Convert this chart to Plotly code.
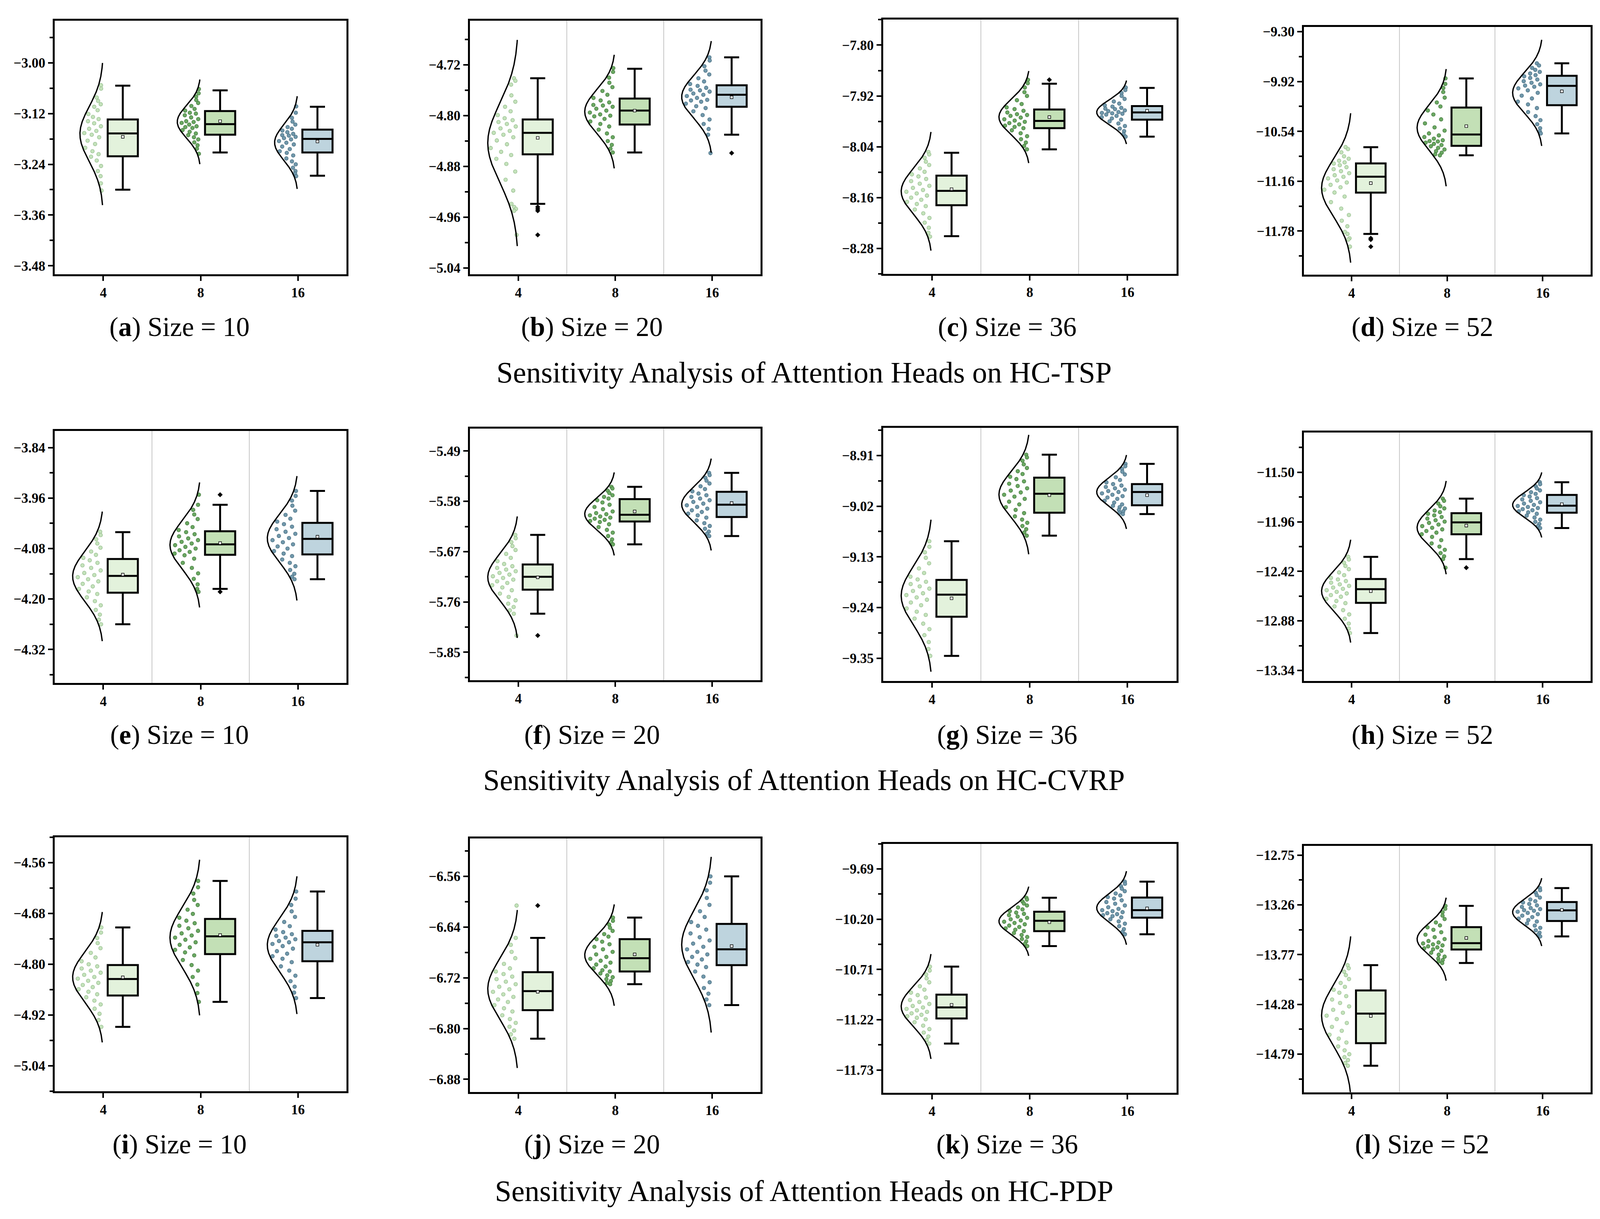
import numpy as np
import plotly.graph_objects as go

HEADS = ["4", "8", "16"]
SIZES = [10, 20, 36, 52]
TASKS = ["HC-TSP", "HC-CVRP", "HC-PDP"]
LETTERS = list("abcdefghijkl")

# labelled y ticks of every panel
Y_TICKS = {
    "a": [-3.00, -3.12, -3.24, -3.36, -3.48],
    "b": [-4.72, -4.80, -4.88, -4.96, -5.04],
    "c": [-7.80, -7.92, -8.04, -8.16, -8.28],
    "d": [-9.30, -9.92, -10.54, -11.16, -11.78],
    "e": [-3.84, -3.96, -4.08, -4.20, -4.32],
    "f": [-5.49, -5.58, -5.67, -5.76, -5.85],
    "g": [-8.91, -9.02, -9.13, -9.24, -9.35],
    "h": [-11.50, -11.96, -12.42, -12.88, -13.34],
    "i": [-4.56, -4.68, -4.80, -4.92, -5.04],
    "j": [-6.56, -6.64, -6.72, -6.80, -6.88],
    "k": [-9.69, -10.20, -10.71, -11.22, -11.73],
    "l": [-12.75, -13.26, -13.77, -14.28, -14.79],
}
Y_RANGE = {
    "a": [-3.50, -2.90], "b": [-5.05, -4.65], "c": [-8.34, -7.74], "d": [-12.32, -9.24],
    "e": [-4.40, -3.80], "f": [-5.90, -5.45], "g": [-9.40, -8.85], "h": [-13.44, -11.13],
    "i": [-5.10, -4.50], "j": [-6.90, -6.50], "k": [-11.96, -9.435], "l": [-15.18, -12.655],
}

# box statistics, one value per head count (4, 8, 16)
UPPER = {
    "a": [-3.054, -3.065, -3.104], "b": [-4.741, -4.726, -4.708], "c": [-8.054, -7.891, -7.901],
    "d": [-10.737, -9.882, -9.693], "e": [-4.041, -3.976, -3.943], "f": [-5.640, -5.554, -5.529],
    "g": [-9.096, -8.908, -8.928], "h": [-12.285, -11.745, -11.592], "i": [-4.713, -4.603, -4.628],
    "j": [-6.657, -6.625, -6.560], "k": [-10.681, -9.982, -9.818], "l": [-13.878, -13.270, -13.088],
}
Q3 = {
    "a": [-3.134, -3.114, -3.158], "b": [-4.806, -4.773, -4.752], "c": [-8.108, -7.952, -7.944],
    "d": [-10.939, -10.244, -9.849], "e": [-4.105, -4.039, -4.019], "f": [-5.693, -5.576, -5.563],
    "g": [-9.180, -8.958, -8.972], "h": [-12.491, -11.880, -11.710], "i": [-4.802, -4.693, -4.721],
    "j": [-6.711, -6.659, -6.635], "k": [-10.965, -10.124, -9.980], "l": [-14.137, -13.488, -13.231],
}
MEDIAN = {
    "a": [-3.167, -3.145, -3.180], "b": [-4.827, -4.792, -4.767], "c": [-8.144, -7.979, -7.959],
    "d": [-11.104, -10.579, -9.974], "e": [-4.145, -4.070, -4.057], "f": [-5.715, -5.604, -5.586],
    "g": [-9.212, -8.993, -8.989], "h": [-12.586, -11.965, -11.810], "i": [-4.835, -4.734, -4.748],
    "j": [-6.741, -6.689, -6.675], "k": [-11.095, -10.216, -10.108], "l": [-14.374, -13.652, -13.316],
}
Q1 = {
    "a": [-3.221, -3.170, -3.212], "b": [-4.861, -4.814, -4.786], "c": [-8.178, -7.996, -7.976],
    "d": [-11.302, -10.720, -10.214], "e": [-4.185, -4.095, -4.094], "f": [-5.738, -5.616, -5.608],
    "g": [-9.260, -9.034, -9.018], "h": [-12.713, -12.076, -11.875], "i": [-4.874, -4.776, -4.793],
    "j": [-6.771, -6.710, -6.700], "k": [-11.207, -10.321, -10.184], "l": [-14.677, -13.717, -13.425],
}
LOWER = {
    "a": [-3.300, -3.212, -3.267], "b": [-4.939, -4.858, -4.830], "c": [-8.251, -8.046, -8.016],
    "d": [-11.815, -10.838, -10.565], "e": [-4.260, -4.176, -4.153], "f": [-5.781, -5.657, -5.642],
    "g": [-9.345, -9.084, -9.037], "h": [-12.993, -12.306, -12.018], "i": [-4.948, -4.889, -4.880],
    "j": [-6.816, -6.730, -6.763], "k": [-11.462, -10.473, -10.353], "l": [-14.908, -13.856, -13.583],
}
MEAN = {
    "a": [-3.175, -3.138, -3.186], "b": [-4.835, -4.792, -4.771], "c": [-8.140, -7.970, -7.955],
    "d": [-11.184, -10.475, -10.042], "e": [-4.142, -4.067, -4.052], "f": [-5.716, -5.598, -5.583],
    "g": [-9.220, -8.996, -8.996], "h": [-12.604, -11.995, -11.796], "i": [-4.831, -4.731, -4.754],
    "j": [-6.742, -6.683, -6.670], "k": [-11.069, -10.230, -10.090], "l": [-14.398, -13.599, -13.312],
}
OUTLIERS = {
    "b": [[-4.944, -4.947, -4.950, -4.988], [], [-4.859]],
    "c": [[], [-7.882], []],
    "d": [[-11.869, -11.886, -11.973], [], []],
    "e": [[], [-3.952, -4.183], []],
    "f": [[-5.820], [], []],
    "h": [[], [-12.386], []],
    "j": [[-6.606], [], []],
}

# individual runs (heads 4, 8, 16)
POINTS = {
    "a": [
        [-3.053, -3.061, -3.082, -3.090, -3.098, -3.104, -3.112, -3.121, -3.128, -3.133, -3.138, -3.143, -3.150, -3.156, -3.161,
         -3.166, -3.170, -3.176, -3.184, -3.192, -3.201, -3.209, -3.216, -3.222, -3.231, -3.244, -3.256, -3.268, -3.285, -3.302],
        [-3.062, -3.072, -3.080, -3.088, -3.095, -3.102, -3.109, -3.113, -3.118, -3.120, -3.124, -3.129, -3.133, -3.138, -3.140,
         -3.142, -3.146, -3.150, -3.152, -3.154, -3.159, -3.163, -3.167, -3.171, -3.176, -3.181, -3.188, -3.195, -3.203, -3.215],
        [-3.103, -3.118, -3.130, -3.139, -3.146, -3.152, -3.156, -3.160, -3.164, -3.168, -3.171, -3.172, -3.175, -3.178, -3.181,
         -3.185, -3.189, -3.193, -3.198, -3.204, -3.209, -3.213, -3.219, -3.226, -3.233, -3.240, -3.248, -3.256, -3.262, -3.268],
    ],
    "b": [
        [-4.741, -4.745, -4.751, -4.768, -4.778, -4.786, -4.793, -4.799, -4.804, -4.807, -4.810, -4.813, -4.817, -4.820, -4.824,
         -4.827, -4.830, -4.834, -4.839, -4.845, -4.851, -4.857, -4.862, -4.868, -4.876, -4.888, -4.901, -4.918, -4.939, -4.944,
         -4.947, -4.950, -4.988],
        [-4.725, -4.731, -4.740, -4.748, -4.755, -4.761, -4.767, -4.772, -4.776, -4.779, -4.783, -4.784, -4.786, -4.789, -4.792,
         -4.795, -4.798, -4.800, -4.801, -4.805, -4.809, -4.813, -4.817, -4.822, -4.828, -4.834, -4.840, -4.846, -4.852, -4.858],
        [-4.708, -4.713, -4.722, -4.729, -4.735, -4.741, -4.746, -4.750, -4.753, -4.756, -4.759, -4.760, -4.762, -4.765, -4.767,
         -4.769, -4.772, -4.775, -4.776, -4.778, -4.781, -4.785, -4.788, -4.793, -4.799, -4.806, -4.813, -4.821, -4.830, -4.859],
    ],
    "c": [
        [-8.052, -8.058, -8.066, -8.075, -8.083, -8.091, -8.099, -8.105, -8.110, -8.116, -8.121, -8.127, -8.132, -8.137, -8.142,
         -8.146, -8.150, -8.155, -8.160, -8.165, -8.170, -8.175, -8.180, -8.188, -8.197, -8.208, -8.219, -8.231, -8.243, -8.252],
        [-7.882, -7.890, -7.900, -7.911, -7.920, -7.930, -7.939, -7.947, -7.951, -7.955, -7.959, -7.963, -7.965, -7.967, -7.971,
         -7.975, -7.978, -7.981, -7.984, -7.987, -7.990, -7.993, -7.996, -8.001, -8.008, -8.015, -8.022, -8.030, -8.038, -8.046],
        [-7.900, -7.906, -7.913, -7.920, -7.927, -7.933, -7.938, -7.942, -7.945, -7.948, -7.950, -7.951, -7.954, -7.956, -7.958,
         -7.960, -7.961, -7.962, -7.964, -7.967, -7.970, -7.973, -7.976, -7.980, -7.985, -7.991, -7.997, -8.003, -8.010, -8.016],
    ],
    "d": [
        [-10.735, -10.760, -10.800, -10.850, -10.880, -10.905, -10.925, -10.940, -10.960, -10.985, -11.010, -11.035, -11.060,
         -11.085, -11.105, -11.125, -11.150, -11.175, -11.205, -11.235, -11.265, -11.300, -11.350, -11.420, -11.500, -11.580,
         -11.650, -11.720, -11.790, -11.815, -11.869, -11.886, -11.973],
        [-9.880, -9.950, -10.000, -10.050, -10.120, -10.180, -10.230, -10.280, -10.330, -10.390, -10.440, -10.490, -10.530,
         -10.565, -10.590, -10.610, -10.630, -10.650, -10.660, -10.665, -10.680, -10.695, -10.710, -10.725, -10.745, -10.765,
         -10.785, -10.805, -10.825, -10.838],
        [-9.693, -9.720, -9.750, -9.775, -9.800, -9.820, -9.840, -9.855, -9.875, -9.895, -9.915, -9.935, -9.955, -9.970, -9.985,
         -10.005, -10.030, -10.060, -10.095, -10.130, -10.170, -10.205, -10.250, -10.300, -10.350, -10.400, -10.450, -10.500,
         -10.540, -10.565],
    ],
    "e": [
        [-4.040, -4.048, -4.058, -4.068, -4.078, -4.087, -4.095, -4.102, -4.108, -4.114, -4.120, -4.126, -4.132, -4.138, -4.143,
         -4.148, -4.153, -4.158, -4.164, -4.170, -4.176, -4.182, -4.188, -4.196, -4.205, -4.215, -4.226, -4.237, -4.249, -4.260],
        [-3.952, -3.976, -3.988, -3.999, -4.010, -4.020, -4.029, -4.036, -4.041, -4.046, -4.051, -4.056, -4.060, -4.064, -4.068,
         -4.072, -4.076, -4.080, -4.084, -4.088, -4.092, -4.096, -4.104, -4.114, -4.126, -4.139, -4.152, -4.165, -4.176, -4.183],
        [-3.943, -3.955, -3.966, -3.978, -3.990, -4.000, -4.009, -4.016, -4.022, -4.028, -4.034, -4.040, -4.045, -4.050, -4.055,
         -4.060, -4.065, -4.070, -4.075, -4.080, -4.086, -4.092, -4.098, -4.106, -4.114, -4.122, -4.131, -4.140, -4.147, -4.153],
    ],
    "f": [
        [-5.640, -5.646, -5.653, -5.660, -5.667, -5.674, -5.681, -5.687, -5.692, -5.696, -5.699, -5.702, -5.705, -5.708, -5.711,
         -5.714, -5.717, -5.720, -5.723, -5.726, -5.730, -5.734, -5.739, -5.745, -5.751, -5.757, -5.763, -5.769, -5.775, -5.781,
         -5.820],
        [-5.554, -5.557, -5.561, -5.565, -5.569, -5.572, -5.575, -5.578, -5.582, -5.586, -5.590, -5.594, -5.598, -5.601, -5.603,
         -5.605, -5.607, -5.609, -5.611, -5.613, -5.615, -5.617, -5.621, -5.626, -5.631, -5.636, -5.642, -5.648, -5.653, -5.657],
        [-5.529, -5.533, -5.538, -5.543, -5.548, -5.553, -5.558, -5.562, -5.566, -5.569, -5.572, -5.575, -5.578, -5.581, -5.584,
         -5.587, -5.590, -5.593, -5.596, -5.599, -5.602, -5.605, -5.609, -5.614, -5.619, -5.624, -5.629, -5.634, -5.638, -5.642],
    ],
    "g": [
        [-9.096, -9.108, -9.120, -9.132, -9.144, -9.155, -9.165, -9.173, -9.179, -9.184, -9.189, -9.194, -9.199, -9.204, -9.209,
         -9.213, -9.218, -9.223, -9.229, -9.235, -9.242, -9.249, -9.256, -9.264, -9.275, -9.287, -9.300, -9.315, -9.330, -9.345],
        [-8.908, -8.914, -8.921, -8.929, -8.937, -8.944, -8.950, -8.956, -8.961, -8.966, -8.971, -8.976, -8.981, -8.986, -8.990,
         -8.995, -8.999, -9.004, -9.010, -9.016, -9.022, -9.028, -9.035, -9.042, -9.049, -9.056, -9.063, -9.070, -9.077, -9.084],
        [-8.928, -8.933, -8.939, -8.945, -8.951, -8.957, -8.963, -8.968, -8.972, -8.975, -8.978, -8.981, -8.984, -8.987, -8.989,
         -8.992, -8.995, -8.998, -9.001, -9.004, -9.008, -9.012, -9.016, -9.019, -9.022, -9.025, -9.028, -9.031, -9.034, -9.037],
    ],
    "h": [
        [-12.285, -12.310, -12.340, -12.370, -12.400, -12.430, -12.455, -12.480, -12.495, -12.510, -12.525, -12.540, -12.555,
         -12.570, -12.582, -12.595, -12.610, -12.625, -12.640, -12.655, -12.675, -12.695, -12.715, -12.745, -12.780, -12.820,
         -12.860, -12.905, -12.950, -12.993],
        [-11.745, -11.765, -11.790, -11.815, -11.835, -11.855, -11.870, -11.885, -11.900, -11.915, -11.930, -11.945, -11.958,
         -11.970, -11.985, -12.000, -12.015, -12.030, -12.045, -12.060, -12.075, -12.100, -12.130, -12.160, -12.190, -12.220,
         -12.250, -12.280, -12.306, -12.386],
        [-11.592, -11.610, -11.630, -11.650, -11.668, -11.685, -11.700, -11.712, -11.725, -11.740, -11.752, -11.765, -11.778,
         -11.790, -11.803, -11.813, -11.822, -11.832, -11.842, -11.852, -11.862, -11.872, -11.885, -11.902, -11.920, -11.940,
         -11.960, -11.980, -12.000, -12.018],
    ],
    "i": [
        [-4.713, -4.725, -4.738, -4.750, -4.762, -4.773, -4.784, -4.793, -4.800, -4.805, -4.810, -4.815, -4.820, -4.825, -4.830,
         -4.834, -4.839, -4.844, -4.849, -4.854, -4.859, -4.865, -4.871, -4.878, -4.886, -4.895, -4.905, -4.917, -4.932, -4.948],
        [-4.603, -4.618, -4.633, -4.648, -4.660, -4.671, -4.681, -4.690, -4.697, -4.703, -4.709, -4.715, -4.721, -4.727, -4.732,
         -4.737, -4.742, -4.748, -4.754, -4.760, -4.766, -4.772, -4.779, -4.790, -4.802, -4.815, -4.830, -4.848, -4.868, -4.889],
        [-4.628, -4.645, -4.660, -4.675, -4.688, -4.700, -4.710, -4.718, -4.724, -4.729, -4.733, -4.737, -4.741, -4.745, -4.748,
         -4.752, -4.757, -4.763, -4.769, -4.775, -4.781, -4.787, -4.795, -4.805, -4.815, -4.827, -4.840, -4.853, -4.867, -4.880],
    ],
    "j": [
        [-6.606, -6.657, -6.668, -6.679, -6.689, -6.698, -6.705, -6.710, -6.714, -6.718, -6.722, -6.726, -6.730, -6.734, -6.738,
         -6.742, -6.746, -6.750, -6.754, -6.758, -6.763, -6.768, -6.773, -6.779, -6.785, -6.791, -6.797, -6.803, -6.809, -6.816],
        [-6.625, -6.630, -6.636, -6.641, -6.646, -6.651, -6.655, -6.659, -6.663, -6.667, -6.671, -6.675, -6.679, -6.683, -6.687,
         -6.690, -6.693, -6.696, -6.699, -6.702, -6.705, -6.708, -6.710, -6.713, -6.716, -6.719, -6.722, -6.725, -6.728, -6.730],
        [-6.560, -6.570, -6.582, -6.594, -6.605, -6.615, -6.624, -6.632, -6.638, -6.644, -6.650, -6.656, -6.661, -6.666, -6.671,
         -6.675, -6.679, -6.683, -6.687, -6.691, -6.695, -6.699, -6.703, -6.710, -6.718, -6.727, -6.736, -6.745, -6.754, -6.763],
    ],
    "k": [
        [-10.681, -10.720, -10.760, -10.800, -10.840, -10.880, -10.915, -10.945, -10.970, -10.995, -11.020, -11.040, -11.060,
         -11.080, -11.095, -11.110, -11.125, -11.140, -11.155, -11.170, -11.185, -11.200, -11.215, -11.245, -11.280, -11.315,
         -11.350, -11.390, -11.425, -11.462],
        [-9.982, -10.000, -10.020, -10.040, -10.060, -10.080, -10.100, -10.118, -10.132, -10.145, -10.158, -10.172, -10.186,
         -10.200, -10.212, -10.225, -10.238, -10.251, -10.264, -10.278, -10.292, -10.306, -10.320, -10.340, -10.360, -10.380,
         -10.400, -10.425, -10.450, -10.473],
        [-9.818, -9.840, -9.865, -9.890, -9.915, -9.938, -9.958, -9.975, -9.990, -10.008, -10.025, -10.042, -10.060, -10.078,
         -10.095, -10.108, -10.118, -10.128, -10.138, -10.148, -10.158, -10.168, -10.180, -10.200, -10.222, -10.245, -10.270,
         -10.300, -10.328, -10.353],
    ],
    "l": [
        [-13.878, -13.910, -13.945, -13.980, -14.020, -14.060, -14.100, -14.130, -14.160, -14.195, -14.230, -14.265, -14.300,
         -14.335, -14.365, -14.395, -14.430, -14.470, -14.510, -14.550, -14.590, -14.630, -14.670, -14.710, -14.750, -14.790,
         -14.820, -14.850, -14.880, -14.908],
        [-13.270, -13.300, -13.335, -13.370, -13.405, -13.440, -13.470, -13.490, -13.515, -13.540, -13.565, -13.590, -13.610,
         -13.630, -13.645, -13.655, -13.665, -13.675, -13.685, -13.695, -13.705, -13.715, -13.730, -13.750, -13.770, -13.790,
         -13.810, -13.825, -13.840, -13.856],
        [-13.088, -13.110, -13.135, -13.160, -13.185, -13.205, -13.222, -13.235, -13.250, -13.265, -13.280, -13.292, -13.303,
         -13.314, -13.320, -13.330, -13.342, -13.355, -13.370, -13.385, -13.400, -13.415, -13.430, -13.450, -13.472, -13.495,
         -13.520, -13.545, -13.565, -13.583],
    ],
}

# styling
PT_FILL = ["#c4e2bb", "#6ba863", "#7198ab"]
PT_EDGE = ["#8fb887", "#3d7437", "#41687b"]
BOX_FILL = ["#e3f2dc", "#c3e0b6", "#bed4de"]
SEPARATORS = {"a": [], "i": [1.5], "k": [0.5]}
CURVE_W = {"a": 0.24}
X_DOM = [(0.0322, 0.2147), (0.2917, 0.4735), (0.5500, 0.7333), (0.8130, 0.9921)]
Y_DOM = {
    "a": (0.7788, 0.9876), "b": (0.7788, 0.9876), "c": (0.7791, 0.9883), "d": (0.7786, 0.9824),
    "e": (0.4423, 0.6500), "f": (0.4447, 0.6517), "g": (0.4439, 0.6523), "h": (0.4439, 0.6486),
    "i": (0.1065, 0.3154), "j": (0.1058, 0.3146), "k": (0.1053, 0.3100), "l": (0.1056, 0.3084),
}
CAP_X = [0.1103, 0.368, 0.6276, 0.887]
CAP_Y = [0.7353, 0.3998, 0.0626]
TITLE_Y = [0.698, 0.3626, 0.0245]

SERIF = "Liberation Serif"
TICKFONT = dict(family=SERIF, size=35, color="black", weight="bold")

fig = go.Figure()
layout = {}
shapes = []
annotations = []

for p, letter in enumerate(LETTERS):
    row, col = divmod(p, 4)
    k = p + 1
    xa = "x" if k == 1 else f"x{k}"
    ya = "y" if k == 1 else f"y{k}"
    w = CURVE_W.get(letter, 0.315)

    for i in range(3):
        pts = np.array(POINTS[letter][i])
        mu, sd = pts.mean(), pts.std()

        # half violin: fitted normal curve on the left of the tick
        ys = np.linspace(mu - 2.6 * sd, mu + 2.6 * sd, 240)
        xs = i - w * np.exp(-0.5 * ((ys - mu) / sd) ** 2)

        # points spread inside the half violin
        u = np.mod((np.arange(len(pts)) + 1) * 0.6180339887, 1.0)
        wp = w * np.exp(-0.5 * ((pts - mu) / sd) ** 2)
        px = i - 0.018 - u * np.clip(wp - 0.04, 0, None)
        fig.add_trace(go.Scatter(
            x=px, y=pts, mode="markers", xaxis=xa, yaxis=ya,
            marker=dict(size=9.5, color=PT_FILL[i], line=dict(color=PT_EDGE[i], width=1.1)),
            showlegend=False, hoverinfo="skip"))
        fig.add_trace(go.Scatter(
            x=xs, y=ys, mode="lines", xaxis=xa, yaxis=ya,
            line=dict(color="black", width=3.4), showlegend=False, hoverinfo="skip"))

        fig.add_trace(go.Box(
            x=[i + 0.2], q1=[Q1[letter][i]], median=[MEDIAN[letter][i]], q3=[Q3[letter][i]],
            lowerfence=[LOWER[letter][i]], upperfence=[UPPER[letter][i]],
            width=0.31, whiskerwidth=0.5, fillcolor=BOX_FILL[i],
            line=dict(color="black", width=5), boxpoints=False,
            xaxis=xa, yaxis=ya, showlegend=False, hoverinfo="skip"))

        fig.add_trace(go.Scatter(
            x=[i + 0.2], y=[MEAN[letter][i]], mode="markers", xaxis=xa, yaxis=ya,
            marker=dict(symbol="square", size=7, color="white", line=dict(color="black", width=1.4)),
            showlegend=False, hoverinfo="skip"))

        outs = OUTLIERS.get(letter, [[], [], []])[i]
        if outs:
            fig.add_trace(go.Scatter(
                x=[i + 0.2] * len(outs), y=outs, mode="markers", xaxis=xa, yaxis=ya,
                marker=dict(symbol="diamond", size=10, color="black"),
                showlegend=False, hoverinfo="skip"))

    for sx in SEPARATORS.get(letter, [0.5, 1.5]):
        shapes.append(dict(type="line", xref=xa, yref=f"{ya} domain", x0=sx, x1=sx, y0=0, y1=1,
                           line=dict(color="#b4b4b4", width=1.5), layer="below"))

    ticks = Y_TICKS[letter]
    step = ticks[0] - ticks[1]
    layout["xaxis" if k == 1 else f"xaxis{k}"] = dict(
        domain=X_DOM[col], anchor=ya, range=[-0.5, 2.5],
        tickvals=[0, 1, 2], ticktext=HEADS, ticks="outside", ticklen=12, tickwidth=4,
        tickcolor="black", tickfont=TICKFONT, showline=True, mirror=True, linewidth=5,
        linecolor="black", showgrid=False, zeroline=False)
    layout["yaxis" if k == 1 else f"yaxis{k}"] = dict(
        domain=Y_DOM[letter], anchor=xa, range=Y_RANGE[letter],
        tickvals=ticks, tickformat=".2f", ticks="outside", ticklen=12, tickwidth=4,
        tickcolor="black", tickfont=TICKFONT, showline=True, mirror=True, linewidth=5,
        linecolor="black", showgrid=False, zeroline=False,
        minor=dict(tick0=ticks[0], dtick=step / 2, ticks="outside", ticklen=8, tickwidth=4,
                   tickcolor="black", showgrid=False))

    annotations.append(dict(
        text=f"(<b>{letter}</b>) Size = {SIZES[col]}", xref="paper", yref="paper",
        x=CAP_X[col], y=CAP_Y[row], xanchor="center", yanchor="middle", showarrow=False,
        font=dict(family=SERIF, size=69, color="black")))

for row, task in enumerate(TASKS):
    annotations.append(dict(
        text=f"Sensitivity Analysis of Attention Heads on {task}", xref="paper", yref="paper",
        x=0.5006, y=TITLE_Y[row], xanchor="center", yanchor="middle", showarrow=False,
        font=dict(family=SERIF, size=76, color="black")))

# size follows the browser window
fig.update_layout(
    autosize=True, margin=dict(l=0, r=0, t=0, b=0),
    paper_bgcolor="white", plot_bgcolor="white",
    shapes=shapes, annotations=annotations, **layout)

fig.write_html("out.html", default_width="100vw", default_height="100vh")
